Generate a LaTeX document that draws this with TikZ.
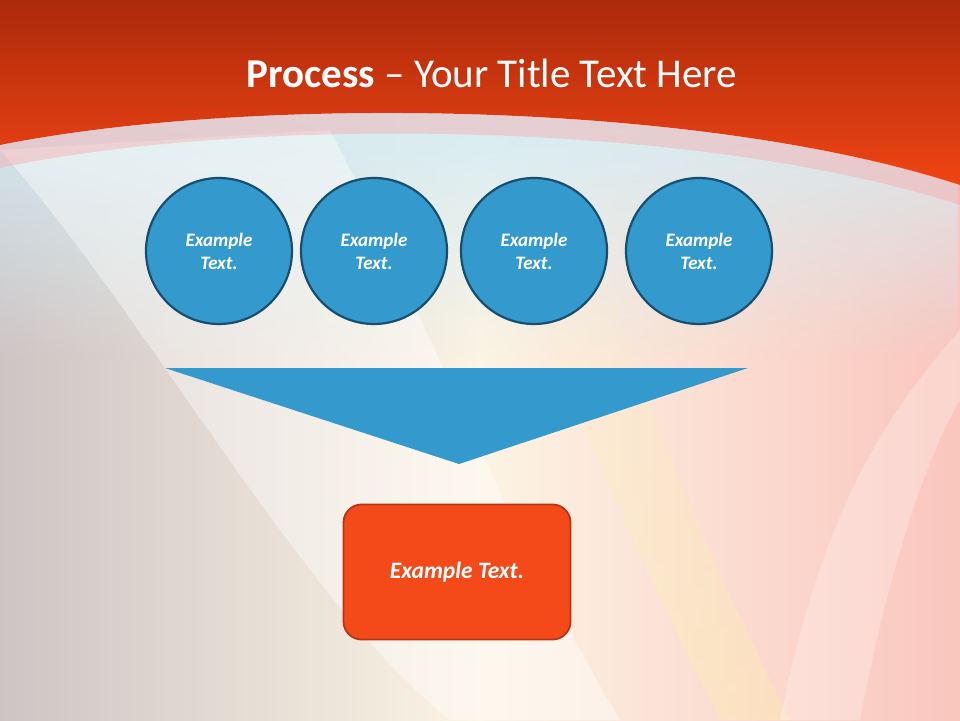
\documentclass[tikz,border=0pt]{standalone}
\usepackage{fontspec}
\setmainfont{Carlito}
\usepackage{tikz}
\usetikzlibrary{fadings}
\definecolor{bandtop}{RGB}{172,42,10}
\definecolor{bandlow}{RGB}{240,68,20}
\definecolor{circblue}{RGB}{52,153,204}
\definecolor{circedge}{RGB}{24,78,110}
\definecolor{boxred}{RGB}{244,74,26}
\definecolor{boxedge}{RGB}{184,52,18}
\definecolor{bgleft}{RGB}{206,196,196}
\definecolor{bgmid}{RGB}{252,244,228}
\definecolor{bgright}{RGB}{250,198,190}
\definecolor{skyblue}{RGB}{212,236,244}

\begin{document}
\begin{tikzpicture}[x=1pt,y=-1pt,
    stepcirc/.style={circle, draw=circedge, line width=2.2pt, fill=circblue,
        minimum size=146pt, inner sep=0pt, text=white, align=center,
        font=\fontsize{19}{23}\selectfont\bfseries\itshape},
    resultbox/.style={rectangle, rounded corners=18pt, draw=boxedge, line width=1.8pt,
        fill=boxred, minimum width=227pt, minimum height=135pt, text=white,
        font=\fontsize{23.5}{26}\selectfont\bfseries\itshape}]
        \useasboundingbox (0,0) rectangle (960,720);
        % background
        \shade[left color=bgleft, right color=bgright, middle color=bgmid] (0,0) rectangle (960,720);
        \fill[white!60!yellow, opacity=0.25, path fading=north] (720,720) .. controls (620,520) and (560,380) .. (500,200)
            -- (580,200) .. controls (640,400) and (720,580) .. (790,720) -- cycle;
        \fill[skyblue, path fading=south] (0,145) .. controls (250,95) and (700,100) .. (960,185)
            -- (960,360) -- (0,360) -- cycle;
        \fill[white, opacity=0.4] (0,150) .. controls (150,320) and (300,600) .. (450,720)
            -- (620,720) .. controls (500,520) and (420,300) .. (330,130) -- cycle;
        \fill[white, opacity=0.25] (960,330) .. controls (880,420) and (820,520) .. (780,720)
            -- (860,720) .. controls (890,560) and (930,450) .. (960,400) -- cycle;
        % title band
        \shade[top color=bandtop, bottom color=bandlow] (0,0) -- (960,0) -- (960,185)
            .. controls (700,100) and (250,95) .. (0,145) -- cycle;
        \fill[pink!80!red, opacity=0.35] (0,145) .. controls (250,95) and (700,100) .. (960,185)
            -- (960,205) .. controls (700,120) and (250,115) .. (0,168) -- cycle;
        \node[text=white, font=\fontsize{41}{44}\selectfont, anchor=base] (title) at (492,87)
            {\textbf{Process} -- Your Title Text Here};
        % steps
        \foreach \i/\x in {1/219,2/374,3/534,4/699}{
            \node[stepcirc] (c\i) at (\x,251) {Example\\Text.};
        }
        % funnel
        \coordinate (fl) at (165,368);
        \coordinate (fr) at (748,368);
        \coordinate (ftip) at (459,464);
        \fill[circblue] (fl) -- (fr) -- (ftip) -- cycle;
        \node[resultbox] (result) at (457,572) {Example Text.};
    \end{tikzpicture}
\end{document}
